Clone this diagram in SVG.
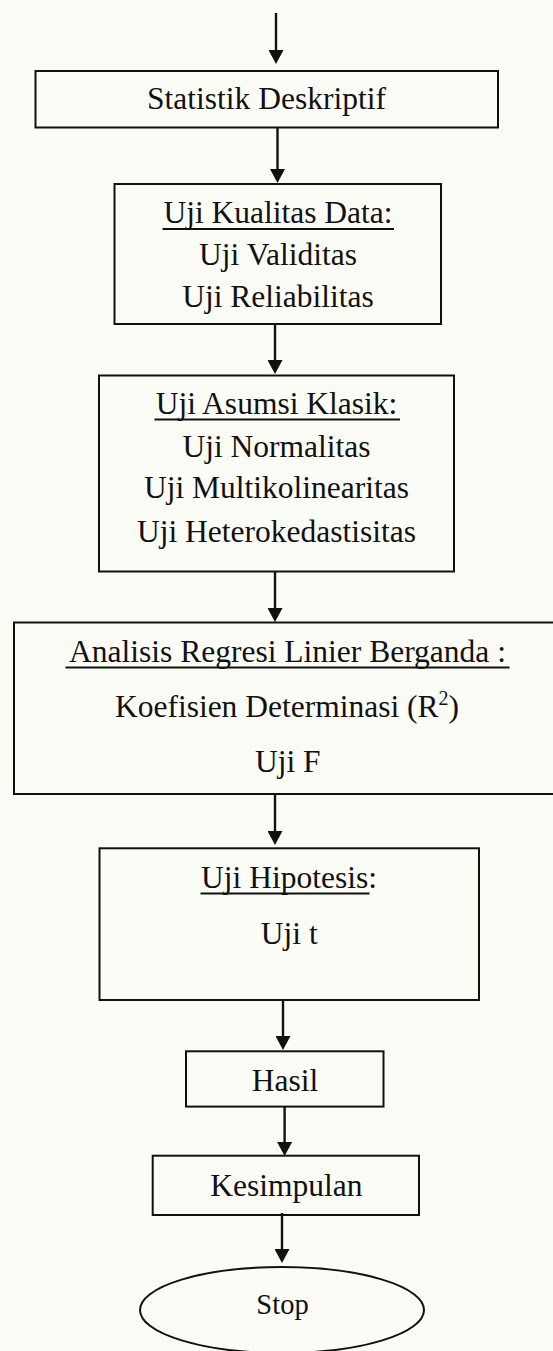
<svg xmlns="http://www.w3.org/2000/svg" width="553" height="1351" viewBox="0 0 553 1351">
  <style>
    .box { fill: none; stroke: #111; stroke-width: 2; }
    .lbl { font-family: "Liberation Serif", "Times New Roman", serif; font-size: 31.5px; fill: #111; text-anchor: middle; }
    .ul { stroke: #111; stroke-width: 2; }
    .conn { stroke: #111; stroke-width: 2.4; fill: none; marker-end: url(#head); }
  </style>
  <defs>
    <marker id="head" viewBox="0 0 14 15" markerWidth="14" markerHeight="15" refX="4" refY="7.5" orient="auto" markerUnits="userSpaceOnUse">
      <path d="M0,0 L14,7.5 L0,15 z" fill="#111"/>
    </marker>
  </defs>

  <rect width="553" height="1351" fill="#fcfcf6"/>

  <!-- connectors: each line stops 10px short of the tip; the marker supplies the head -->
  <g id="connectors">
    <line class="conn" x1="276" y1="13" x2="276" y2="54"/>
    <line class="conn" x1="277.5" y1="128" x2="277.5" y2="173"/>
    <line class="conn" x1="275" y1="325" x2="275" y2="364"/>
    <line class="conn" x1="275" y1="572" x2="275" y2="612"/>
    <line class="conn" x1="275" y1="795" x2="275" y2="835"/>
    <line class="conn" x1="283" y1="1001" x2="283" y2="1040"/>
    <line class="conn" x1="284.6" y1="1107" x2="284.6" y2="1146"/>
    <line class="conn" x1="282" y1="1213" x2="282" y2="1253"/>
  </g>

  <g id="statistik-deskriptif">
    <rect class="box" x="35.5" y="71" width="462.5" height="56.5"/>
    <text class="lbl" x="266.5" y="109.3">Statistik Deskriptif</text>
  </g>

  <g id="uji-kualitas-data">
    <rect class="box" x="114.5" y="184" width="326.5" height="140"/>
    <text class="lbl" x="278" y="223.3">Uji Kualitas Data:</text>
    <line class="ul" x1="162.5" y1="229" x2="394" y2="229"/>
    <text class="lbl" x="278" y="265">Uji Validitas</text>
    <text class="lbl" x="278" y="306.7">Uji Reliabilitas</text>
  </g>

  <g id="uji-asumsi-klasik">
    <rect class="box" x="99" y="375.5" width="355" height="196"/>
    <text class="lbl" x="276.5" y="414">Uji Asumsi Klasik:</text>
    <line class="ul" x1="154.5" y1="419.5" x2="400" y2="419.5"/>
    <text class="lbl" x="276.5" y="456.7">Uji Normalitas</text>
    <text class="lbl" x="276.5" y="498.3">Uji Multikolinearitas</text>
    <text class="lbl" x="276.5" y="541.7">Uji Heterokedastisitas</text>
  </g>

  <g id="analisis-regresi">
    <rect class="box" x="14" y="622.5" width="548" height="171.5"/>
    <text class="lbl" x="287.5" y="661.7">Analisis Regresi Linier Berganda :</text>
    <line class="ul" x1="65.5" y1="667.5" x2="509.5" y2="667.5"/>
    <text class="lbl" x="287" y="716.5">Koefisien Determinasi (R<tspan font-size="20" dy="-12">2</tspan><tspan dy="12">)</tspan></text>
    <text class="lbl" x="287.8" y="771.7">Uji F</text>
  </g>

  <g id="uji-hipotesis">
    <rect class="box" x="99.5" y="848.3" width="379.5" height="151.7"/>
    <text class="lbl" x="289" y="888.3">Uji Hipotesis:</text>
    <line class="ul" x1="200.5" y1="893.5" x2="369.5" y2="893.5"/>
    <text class="lbl" x="289.2" y="944">Uji t</text>
  </g>

  <g id="hasil">
    <rect class="box" x="186" y="1051.3" width="197.5" height="55.3"/>
    <text class="lbl" x="285" y="1091">Hasil</text>
  </g>

  <g id="kesimpulan">
    <rect class="box" x="152.7" y="1155.7" width="266.3" height="59.3"/>
    <text class="lbl" x="286.4" y="1195.7">Kesimpulan</text>
  </g>

  <g id="stop">
    <ellipse class="box" cx="282" cy="1310" rx="142" ry="43"/>
    <text class="lbl" x="282.5" y="1314.3" style="font-size:28.5px">Stop</text>
  </g>
</svg>
